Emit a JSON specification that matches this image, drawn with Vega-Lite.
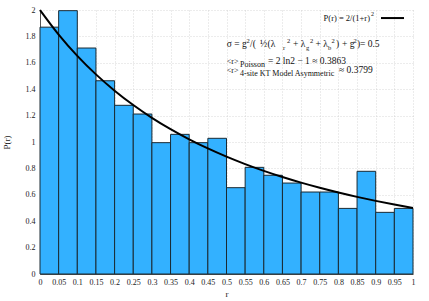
{
  "$schema": "https://vega.github.io/schema/vega-lite/v6.json",
  "width": 373,
  "height": 264,
  "autosize": {"type": "none"},
  "padding": {"left": 40, "top": 10, "right": 16, "bottom": 27},
  "background": "white",
  "config": {
    "view": {"stroke": null},
    "font": "Liberation Serif",
    "axis": {
      "labelFont": "Liberation Serif",
      "titleFont": "Liberation Serif",
      "labelFontSize": 8,
      "titleFontSize": 9,
      "titleFontWeight": "normal",
      "labelColor": "#222",
      "titleColor": "#222",
      "domainColor": "#555",
      "domainWidth": 1,
      "ticks": false,
      "grid": true,
      "gridColor": "#c8c8c8",
      "gridDash": [1, 2],
      "gridWidth": 0.7,
      "labelOverlap": false,
      "labelFlush": false
    }
  },
  "datasets": {
    "bars": [
      {"r": 0.0, "r1": 0.05, "p": 1.87},
      {"r": 0.05, "r1": 0.1, "p": 1.995},
      {"r": 0.1, "r1": 0.15, "p": 1.712},
      {"r": 0.15, "r1": 0.2, "p": 1.464},
      {"r": 0.2, "r1": 0.25, "p": 1.278},
      {"r": 0.25, "r1": 0.3, "p": 1.212},
      {"r": 0.3, "r1": 0.35, "p": 0.995},
      {"r": 0.35, "r1": 0.4, "p": 1.058},
      {"r": 0.4, "r1": 0.45, "p": 0.995},
      {"r": 0.45, "r1": 0.5, "p": 1.028},
      {"r": 0.5, "r1": 0.55, "p": 0.654},
      {"r": 0.55, "r1": 0.6, "p": 0.808},
      {"r": 0.6, "r1": 0.65, "p": 0.748},
      {"r": 0.65, "r1": 0.7, "p": 0.689},
      {"r": 0.7, "r1": 0.75, "p": 0.621},
      {"r": 0.75, "r1": 0.8, "p": 0.621},
      {"r": 0.8, "r1": 0.85, "p": 0.497},
      {"r": 0.85, "r1": 0.9, "p": 0.778},
      {"r": 0.9, "r1": 0.95, "p": 0.467},
      {"r": 0.95, "r1": 1.0, "p": 0.497}
    ],
    "curve": [
      {"r": 0.0, "p": 2.0},
      {"r": 0.05, "p": 1.8141},
      {"r": 0.1, "p": 1.6529},
      {"r": 0.15, "p": 1.5123},
      {"r": 0.2, "p": 1.3889},
      {"r": 0.25, "p": 1.28},
      {"r": 0.3, "p": 1.1834},
      {"r": 0.35, "p": 1.0974},
      {"r": 0.4, "p": 1.0204},
      {"r": 0.45, "p": 0.9512},
      {"r": 0.5, "p": 0.8889},
      {"r": 0.55, "p": 0.8325},
      {"r": 0.6, "p": 0.7813},
      {"r": 0.65, "p": 0.7346},
      {"r": 0.7, "p": 0.692},
      {"r": 0.75, "p": 0.6531},
      {"r": 0.8, "p": 0.6173},
      {"r": 0.85, "p": 0.5844},
      {"r": 0.9, "p": 0.554},
      {"r": 0.95, "p": 0.526},
      {"r": 1.0, "p": 0.5}
    ],
    "legendLine": [{"r": 0.9142, "r1": 0.9759, "p": 1.939}],
    "legendText": [{"r": 0.8847, "p": 1.9167, "t": "P(r) = 2/(1+r)"}],
    "legendSup": [{"r": 0.8874, "p": 1.9545, "t": "2"}],
    "mainText": [
      {"r": 0.50054, "p": 1.72, "t": "σ = g"},
      {"r": 0.563, "p": 1.72, "t": "/("},
      {"r": 0.5898, "p": 1.72, "t": "½"},
      {"r": 0.6099, "p": 1.72, "t": "(λ"},
      {"r": 0.6783, "p": 1.72, "t": "+ λ"},
      {"r": 0.7386, "p": 1.72, "t": "+ λ"},
      {"r": 0.7936, "p": 1.72, "t": ")"},
      {"r": 0.8097, "p": 1.72, "t": "+ g"},
      {"r": 0.8499, "p": 1.72, "t": ")"},
      {"r": 0.8579, "p": 1.72, "t": "= 0.5"},
      {"r": 0.6113, "p": 1.5909, "t": "= 2 ln2 − 1 ≈ 0.3863"},
      {"r": 0.8016, "p": 1.5227, "t": "≈ 0.3799"}
    ],
    "supText": [
      {"r": 0.5536, "p": 1.75, "t": "2"},
      {"r": 0.6622, "p": 1.75, "t": "2"},
      {"r": 0.7239, "p": 1.75, "t": "2"},
      {"r": 0.7815, "p": 1.75, "t": "2"},
      {"r": 0.8405, "p": 1.75, "t": "2"}
    ],
    "subText": [
      {"r": 0.6515, "p": 1.697, "t": "r"},
      {"r": 0.7131, "p": 1.697, "t": "g"},
      {"r": 0.7721, "p": 1.697, "t": "b"}
    ],
    "rText": [
      {"r": 0.50054, "p": 1.5909, "t": "<r>"},
      {"r": 0.50054, "p": 1.5227, "t": "<r>"}
    ],
    "smallText": [
      {"r": 0.5362, "p": 1.5682, "t": "Poisson"},
      {"r": 0.5362, "p": 1.5, "t": "4-site KT Model Asymmetric"}
    ]
  },
  "encoding": {
    "x": {
      "field": "r", "type": "quantitative",
      "scale": {"domain": [0, 1], "nice": false, "zero": false},
      "axis": {
        "values": [0, 0.05, 0.1, 0.15, 0.2, 0.25, 0.3, 0.35, 0.4, 0.45, 0.5, 0.55, 0.6, 0.65, 0.7, 0.75, 0.8, 0.85, 0.9, 0.95, 1],
        "format": "~g", "title": "r", "labelPadding": 4, "titlePadding": 3
      }
    },
    "y": {
      "field": "p", "type": "quantitative",
      "scale": {"domain": [0, 2], "nice": false},
      "axis": {
        "values": [0, 0.2, 0.4, 0.6, 0.8, 1, 1.2, 1.4, 1.6, 1.8, 2],
        "format": "~g", "title": "P(r)", "labelPadding": 5, "titlePadding": 14
      }
    }
  },
  "layer": [
    {
      "data": {"name": "bars"},
      "mark": {"type": "rect", "fill": "#33b1ff", "stroke": "#1a2a33", "strokeWidth": 1},
      "encoding": {
        "x2": {"field": "r1"},
        "y2": {"datum": 0}
      }
    },
    {
      "data": {"name": "curve"},
      "mark": {"type": "line", "color": "#000", "strokeWidth": 2, "interpolate": "monotone"},
      "encoding": {}
    },
    {
      "data": {"name": "legendLine"},
      "mark": {"type": "rule", "color": "#000", "strokeWidth": 2},
      "encoding": {
        "x2": {"field": "r1"}
      }
    },
    {
      "data": {"name": "legendText"},
      "mark": {"type": "text", "align": "right", "baseline": "alphabetic", "fontSize": 8.5, "color": "#111"},
      "encoding": {"text": {"field": "t"}}
    },
    {
      "data": {"name": "legendSup"},
      "mark": {"type": "text", "align": "left", "baseline": "alphabetic", "fontSize": 6, "color": "#111"},
      "encoding": {"text": {"field": "t"}}
    },
    {
      "data": {"name": "mainText"},
      "mark": {"type": "text", "align": "left", "baseline": "alphabetic", "fontSize": 9.5, "color": "#111"},
      "encoding": {"text": {"field": "t"}}
    },
    {
      "data": {"name": "supText"},
      "mark": {"type": "text", "align": "left", "baseline": "alphabetic", "fontSize": 6.5, "color": "#111"},
      "encoding": {"text": {"field": "t"}}
    },
    {
      "data": {"name": "subText"},
      "mark": {"type": "text", "align": "left", "baseline": "alphabetic", "fontSize": 6.5, "color": "#111"},
      "encoding": {"text": {"field": "t"}}
    },
    {
      "data": {"name": "rText"},
      "mark": {"type": "text", "align": "left", "baseline": "alphabetic", "fontSize": 8, "color": "#111"},
      "encoding": {"text": {"field": "t"}}
    },
    {
      "data": {"name": "smallText"},
      "mark": {"type": "text", "align": "left", "baseline": "alphabetic", "fontSize": 8, "color": "#111"},
      "encoding": {"text": {"field": "t"}}
    }
  ]
}
